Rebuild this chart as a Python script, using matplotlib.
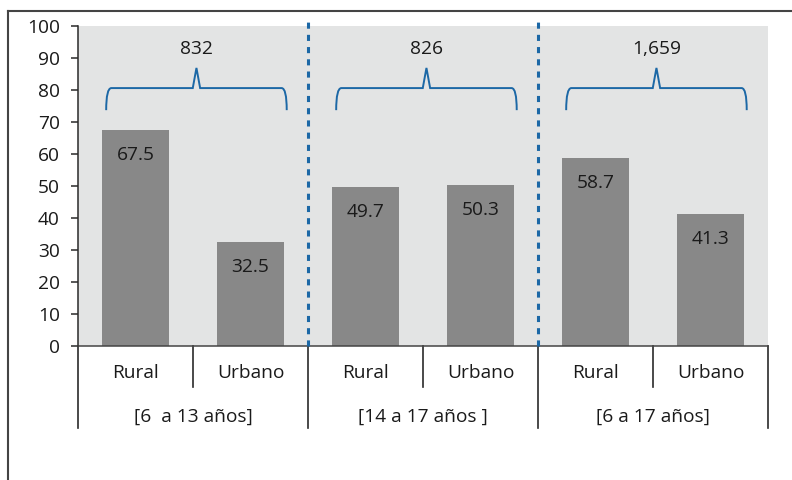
import matplotlib
matplotlib.use("Agg")
import matplotlib.pyplot as plt
from matplotlib.path import Path
from matplotlib.patches import PathPatch
from matplotlib.transforms import blended_transform_factory
from matplotlib.lines import Line2D

# Data
areas = ["Rural", "Urbano", "Rural", "Urbano", "Rural", "Urbano"]
values = [67.5, 32.5, 49.7, 50.3, 58.7, 41.3]
groups = ["[6  a 13 años]", "[14 a 17 años ]", "[6 a 17 años]"]
group_totals = ["832", "826", "1,659"]
yticks = [0, 10, 20, 30, 40, 50, 60, 70, 80, 90, 100]

plt.rcParams["font.family"] = ["Open Sans", "DejaVu Sans"]
TEXT = "#1a1a1a"
BAR = "#888888"
BG = "#e3e4e4"
BLUE = "#1c68a6"
DARK = "#2a2a2a"
FS = 13.8

fig = plt.figure(figsize=(7.92, 4.8), dpi=100)
ax = fig.add_axes([78 / 792, 1 - 346 / 480, (768 - 78) / 792, 320 / 480])
ax.set_facecolor(BG)

x = list(range(len(values)))
ax.bar(x, values, width=0.59, color=BAR, zorder=2)
ax.set_xlim(-0.5, len(values) - 0.5)
ax.set_ylim(0, 100)

# value labels inside the bars
for xi, v in zip(x, values):
    ax.text(xi, v - 7.8, f"{v:.1f}", ha="center", va="center",
            fontsize=FS, color=TEXT, zorder=3)

# axes styling
for side in ("top", "right"):
    ax.spines[side].set_visible(False)
ax.spines["left"].set_color(DARK)
ax.spines["bottom"].set_color("#444444")
ax.spines["left"].set_linewidth(1.1)
ax.spines["bottom"].set_linewidth(1.1)
ax.set_yticks(yticks)
ax.set_yticklabels([str(t) for t in yticks])
ax.tick_params(axis="y", length=5, width=1.1, color=DARK, pad=8,
               labelsize=FS, labelcolor=TEXT)
ax.set_xticks([])

# dotted separators between groups
n_groups = len(groups)
per = len(values) // n_groups
for g in range(1, n_groups):
    xs = g * per - 0.5
    ax.plot([xs, xs], [0, 102.2], color=BLUE, lw=2.2,
            linestyle=(0, (2, 2)), dash_capstyle="butt",
            clip_on=False, zorder=4)

# braces above each group
def brace(cx, half, y0, y1, ypk):
    w = 0.045
    pk = 0.032
    verts = [
        (cx - half, y0),
        (cx - half, y1), (cx - half + w, y1),
        (cx - pk, y1),
        (cx, ypk),
        (cx + pk, y1),
        (cx + half - w, y1),
        (cx + half, y1), (cx + half, y0),
    ]
    codes = [Path.MOVETO,
             Path.CURVE3, Path.CURVE3,
             Path.LINETO, Path.LINETO, Path.LINETO, Path.LINETO,
             Path.CURVE3, Path.CURVE3]
    ax.add_patch(PathPatch(Path(verts, codes), fill=False, edgecolor=BLUE,
                           lw=1.4, zorder=3, clip_on=False))

for g, total in enumerate(group_totals):
    cx = g * per + (per - 1) / 2 + 0.03
    brace(cx, 0.785, 73.7, 80.6, 86.9)
    ax.text(cx, 92.7, total, ha="center", va="center", fontsize=FS, color=TEXT)

# category axis below the plot
tr = blended_transform_factory(ax.transData, ax.transAxes)
for xi, name in zip(x, areas):
    ax.text(xi, -0.084, name, transform=tr, ha="center", va="center",
            fontsize=FS, color=TEXT)
for g, name in enumerate(groups):
    ax.text(g * per + (per - 1) / 2, -0.221, name, transform=tr,
            ha="center", va="center", fontsize=FS, color=TEXT)

# divider lines under the axis
for g in range(n_groups):
    for k in range(1, per):
        xd = g * per + k - 0.5
        ax.plot([xd, xd], [0, -0.128], transform=tr, color=DARK, lw=1.2,
                clip_on=False)
for g in range(n_groups + 1):
    xd = g * per - 0.5
    ax.plot([xd, xd], [0, -0.256], transform=tr, color=DARK, lw=1.2,
            clip_on=False)

# outer frame (left and top edges)
fig.add_artist(Line2D([8 / 792, 8 / 792], [0, 1 - 11 / 480],
                      transform=fig.transFigure, color="#444444", lw=1.5))
fig.add_artist(Line2D([8 / 792, 1], [1 - 11 / 480, 1 - 11 / 480],
                      transform=fig.transFigure, color="#444444", lw=1.5))

fig.savefig("out.png", dpi=100)
